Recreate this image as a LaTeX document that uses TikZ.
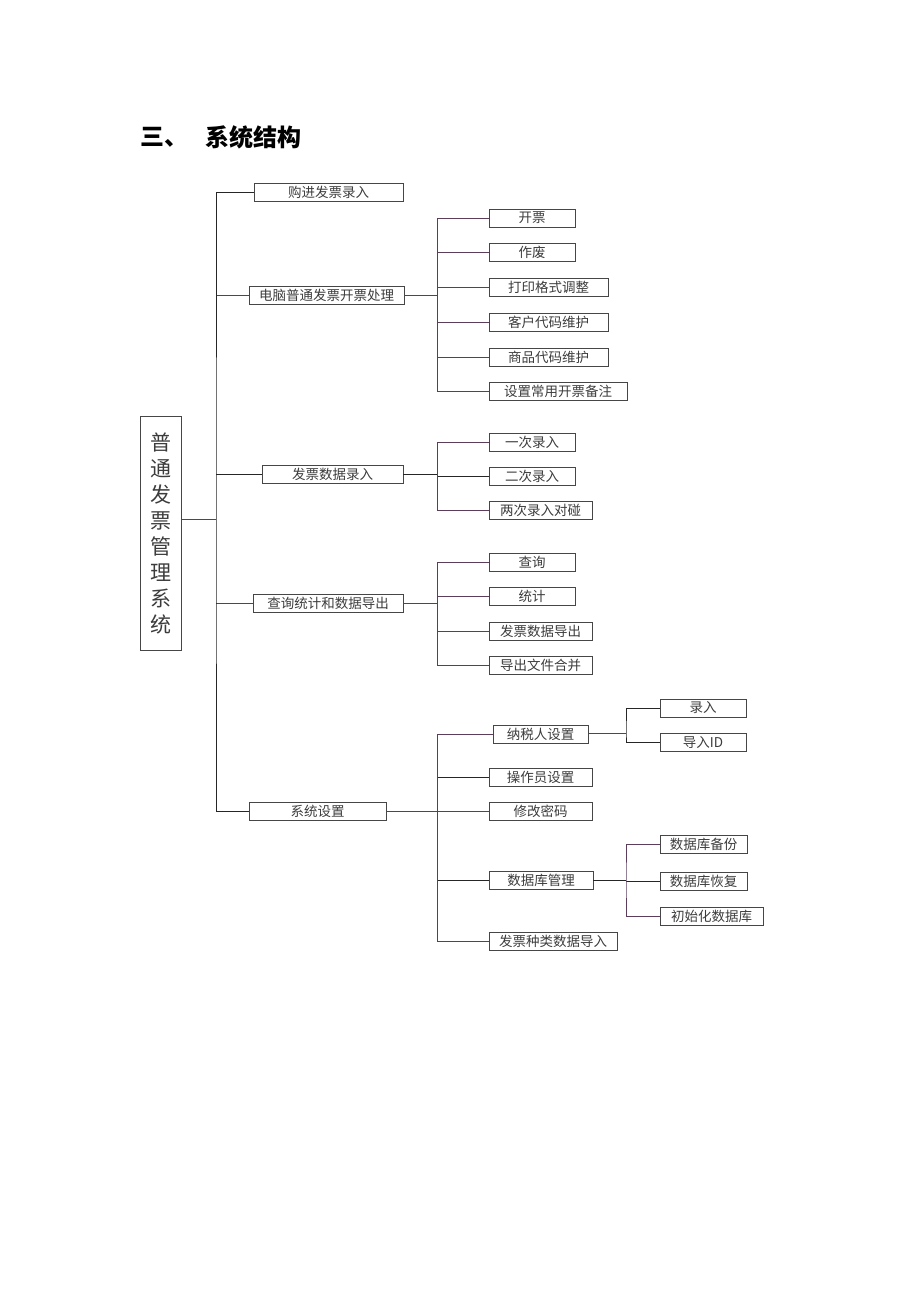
\documentclass[tikz,border=0pt]{standalone}
\usepackage{fontspec}
\newfontfamily\cjk{Noto Sans CJK SC}
\definecolor{lnc}{RGB}{92,62,92}
\definecolor{boxc}{RGB}{70,70,70}
\definecolor{txtc}{RGB}{60,60,60}
\begin{document}
\begin{tikzpicture}[x=1pt, y=-1pt,
  main box/.style={draw=boxc, line width=0.9pt, inner sep=0pt, text=txtc, align=center,
    font=\cjk\fontsize{21}{26}\selectfont},
  leaf/.style={draw=boxc, line width=0.9pt, minimum height=18, inner sep=0pt, text=txtc,
    font=\cjk\fontsize{13.5}{14}\selectfont},
  lnk/.style={draw=lnc, line width=0.9pt},
  lnkb/.style={draw=black!85, line width=0.9pt}]
\useasboundingbox (0,0) rectangle (920,1302);
% title
\begin{scope}[every node/.style={font=\cjk\bfseries\fontsize{24}{26}\selectfont, inner sep=0pt, anchor=west}]
\node (hnum) at (140,137) {三、};
\node (htitle) at (205,137) {系统结构};
\end{scope}
% root
\node[main box, minimum width=41, minimum height=234] (root) at (160.5,533) {普\\通\\发\\票\\管\\理\\系\\统};
% level 1
\begin{scope}
\node[leaf, minimum width=149] (a1) at (328.5,192) {购进发票录入};
\node[leaf, minimum width=155] (a2) at (326.5,295.5) {电脑普通发票开票处理};
\node[leaf, minimum width=141] (a3) at (332.5,474.5) {发票数据录入};
\node[leaf, minimum width=150] (a4) at (328,603) {查询统计和数据导出};
\node[leaf, minimum width=137] (a5) at (317.5,811.5) {系统设置};
\end{scope}
% level 2
\begin{scope}
\node[leaf, minimum width=86] (b1) at (532,218) {开票};
\node[leaf, minimum width=86] (b2) at (532,252.5) {作废};
\node[leaf, minimum width=119] (b3) at (548.5,287) {打印格式调整};
\node[leaf, minimum width=119] (b4) at (548.5,322) {客户代码维护};
\node[leaf, minimum width=119] (b5) at (548.5,357) {商品代码维护};
\node[leaf, minimum width=138] (b6) at (558,391) {设置常用开票备注};
\node[leaf, minimum width=86] (c1) at (532,442) {一次录入};
\node[leaf, minimum width=86] (c2) at (532,476.5) {二次录入};
\node[leaf, minimum width=103] (c3) at (540.5,510.5) {两次录入对碰};
\node[leaf, minimum width=86] (d1) at (532,562) {查询};
\node[leaf, minimum width=86] (d2) at (532,596.5) {统计};
\node[leaf, minimum width=103] (d3) at (540.5,631) {发票数据导出};
\node[leaf, minimum width=103] (d4) at (540.5,665.5) {导出文件合并};
\node[leaf, minimum width=95] (e1) at (540.5,734) {纳税人设置};
\node[leaf, minimum width=103] (e2) at (540.5,777) {操作员设置};
\node[leaf, minimum width=103] (e3) at (540.5,811.5) {修改密码};
\node[leaf, minimum width=104] (e4) at (541,880) {数据库管理};
\node[leaf, minimum width=128] (e5) at (553,941) {发票种类数据导入};
\end{scope}
% level 3
\begin{scope}
\node[leaf, minimum width=86] (f1) at (703,708) {录入};
\node[leaf, minimum width=86] (f2) at (703,742.5) {导入ID};
\node[leaf, minimum width=87] (g1) at (703.5,844) {数据库备份};
\node[leaf, minimum width=87] (g2) at (703.5,881) {数据库恢复};
\node[leaf, minimum width=103] (g3) at (711.5,916) {初始化数据库};
\end{scope}
% junctions
\coordinate (tr) at (216,519);
\coordinate (jb) at (437.5,295.5);
\coordinate (jc) at (437.5,474.5);
\coordinate (jd) at (437.5,603);
\coordinate (je) at (437.5,811.5);
\coordinate (jf) at (626,733);
\coordinate (jg) at (626,880);
% connectors
\begin{scope}
\draw[lnk] (root.east |- tr) -- (tr);
\draw[lnk] (a2.west) -- (a2.west -| tr);
\draw[lnkb] (a3.west) -- (a3.west -| tr);
\draw[lnk] (a4.west) -- (a4.west -| tr);
\draw[lnkb] (a1.west) -| (tr) |- (a5.west);
% 开票处理
\draw[lnk] (a2.east) -- (jb);
\foreach \n in {b2,b3,b4,b5} \draw[lnk] (\n.west) -- (\n.west -| jb);
\draw[lnk] (b1.west) -| (jb) |- (b6.west);
% 数据录入
\draw[lnkb] (a3.east) -- (jc);
\draw[lnkb] (c2.west) -- (c2.west -| jc);
\draw[lnk] (c1.west) -| (jc) |- (c3.west);
% 查询统计
\draw[lnk] (a4.east) -- (jd);
\foreach \n in {d2,d3} \draw[lnk] (\n.west) -- (\n.west -| jd);
\draw[lnk] (d1.west) -| (jd) |- (d4.west);
% 系统设置
\draw[lnk] (a5.east) -- (e3.west);
\draw[lnkb] (e2.west) -- (e2.west -| je);
\draw[lnkb] (e4.west) -- (e4.west -| je);
\draw[lnk] (e1.west) -| (je) |- (e5.west);
\draw[lnk] (e1.east |- jf) -- (jf);
\draw[lnkb] (f1.west) -| (jf) |- (f2.west);
\draw[lnkb] (e4.east) -- (jg);
\draw[lnkb] (g2.west) -- (g2.west -| jg);
\draw[lnk] (g1.west) -| (jg) |- (g3.west);
\end{scope}
\end{tikzpicture}
\end{document}
